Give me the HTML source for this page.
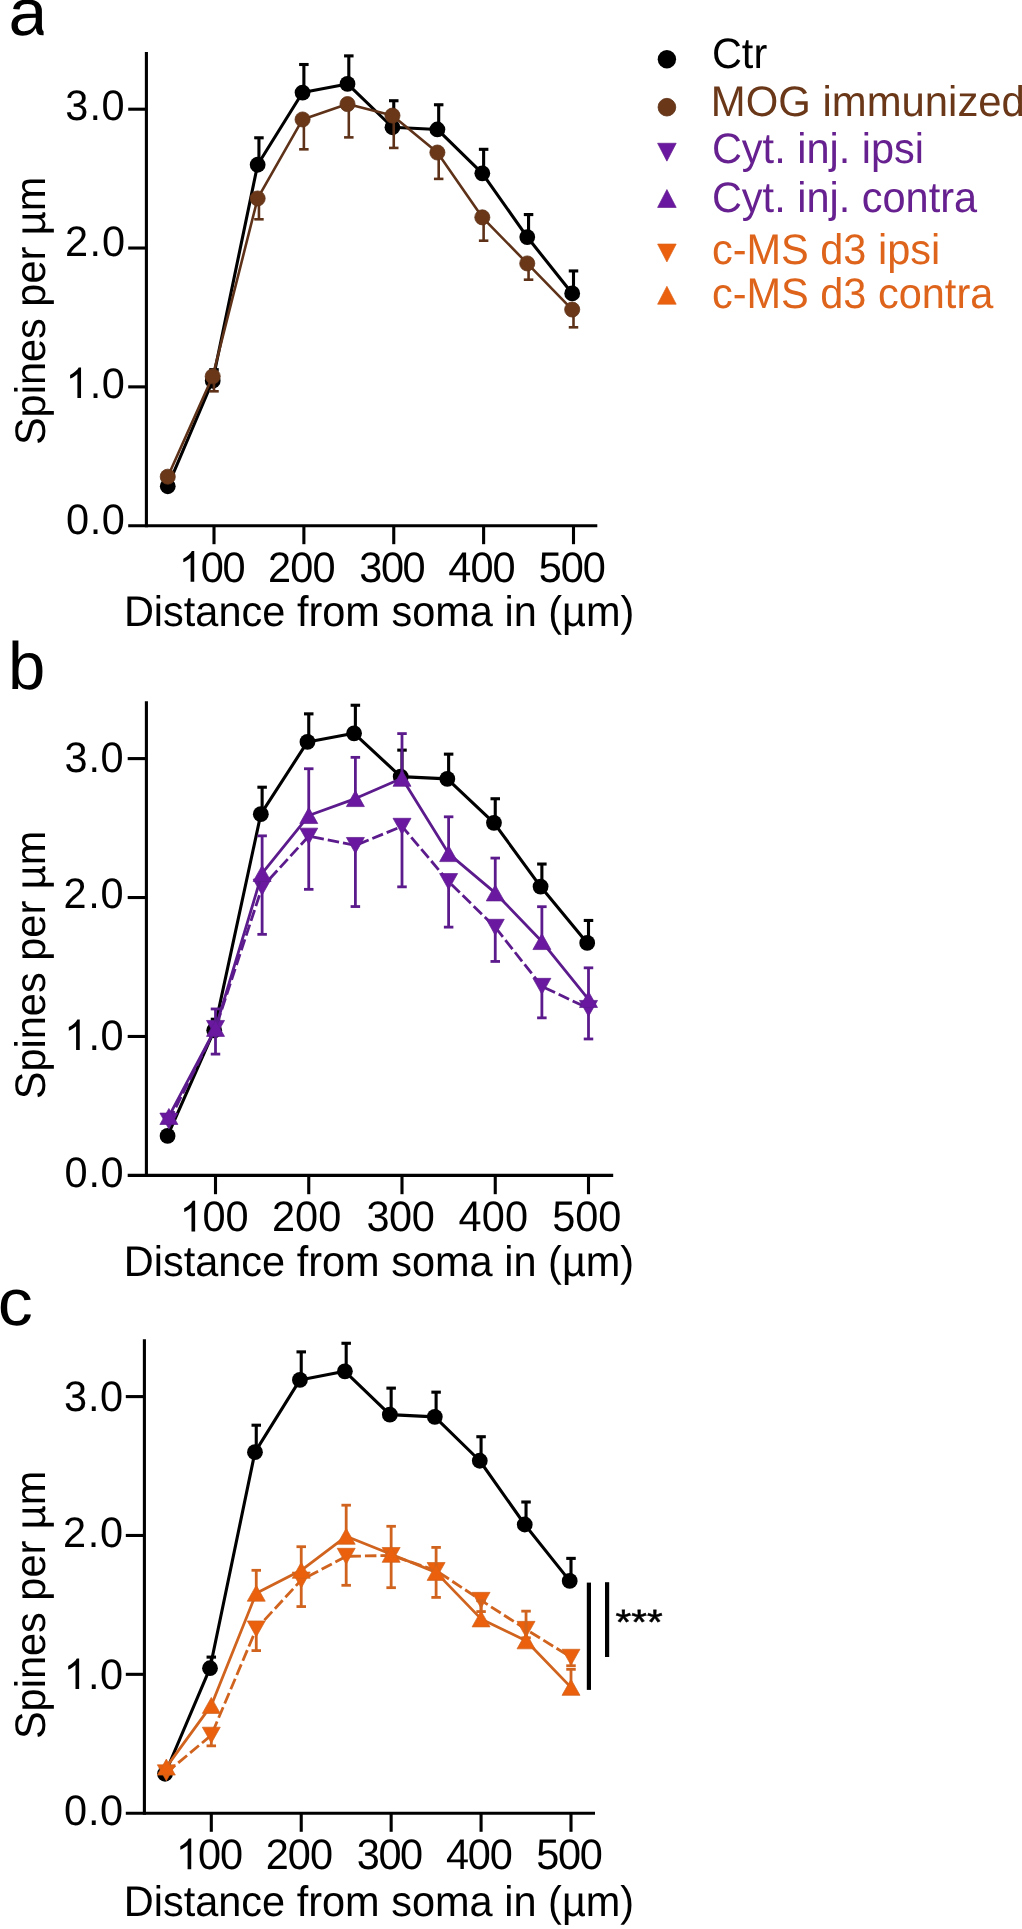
<!DOCTYPE html>
<html><head><meta charset="utf-8"><title>Spines per um</title>
<style>
html,body{margin:0;padding:0;background:#fff;}
body{width:1022px;height:1929px;overflow:hidden;font-family:"Liberation Sans", sans-serif;}
svg{display:block;will-change:transform;}
</style></head><body>
<svg width="1022" height="1929" viewBox="0 0 1022 1929" font-family="Liberation Sans, sans-serif" text-rendering="geometricPrecision">
<rect width="1022" height="1929" fill="#fff"/>
<clipPath id="ca"><rect x="0" y="0" width="43.6" height="60"/></clipPath>
<g clip-path="url(#ca)"><text transform="translate(8.6,35.0) scale(1.06,1)" font-size="66" fill="#000">a</text></g>
<text transform="translate(8.00,689.30) scale(1,1.0)" font-size="67" text-anchor="start" fill="#000" >b</text>
<text transform="translate(-2.30,1325.00) scale(1,0.945)" font-size="70" text-anchor="start" fill="#000" >c</text>
<line x1="146.40" y1="52.00" x2="146.40" y2="527.25" stroke="#000000" stroke-width="3.1" />
<line x1="128.20" y1="525.70" x2="597.30" y2="525.70" stroke="#000000" stroke-width="3.1" />
<line x1="128.20" y1="386.87" x2="146.40" y2="386.87" stroke="#000000" stroke-width="3.1" />
<line x1="128.20" y1="248.03" x2="146.40" y2="248.03" stroke="#000000" stroke-width="3.1" />
<line x1="128.20" y1="109.20" x2="146.40" y2="109.20" stroke="#000000" stroke-width="3.1" />
<line x1="214.00" y1="525.70" x2="214.00" y2="544.20" stroke="#000000" stroke-width="3.1" />
<line x1="303.88" y1="525.70" x2="303.88" y2="544.20" stroke="#000000" stroke-width="3.1" />
<line x1="393.75" y1="525.70" x2="393.75" y2="544.20" stroke="#000000" stroke-width="3.1" />
<line x1="483.62" y1="525.70" x2="483.62" y2="544.20" stroke="#000000" stroke-width="3.1" />
<line x1="573.50" y1="525.70" x2="573.50" y2="544.20" stroke="#000000" stroke-width="3.1" />
<text transform="translate(65.22,120.00) scale(1,1.03)" font-size="41.5" fill="#000">3</text>
<text transform="translate(89.44,120.00) scale(1,1.03)" font-size="41.5" fill="#000">.</text>
<text transform="translate(101.54,120.00) scale(1,1.03)" font-size="41.5" fill="#000">0</text>
<text transform="translate(64.91,256.00) scale(1,1.03)" font-size="41.5" fill="#000">2</text>
<text transform="translate(89.61,256.00) scale(1,1.03)" font-size="41.5" fill="#000">.</text>
<text transform="translate(101.94,256.00) scale(1,1.03)" font-size="41.5" fill="#000">0</text>
<path transform="translate(65.58,398.00) scale(0.020264,-0.020872)" d="M763 0L583 0L583 1147C540 1106 483 1065 413 1024C343 983 280 952 223 931L223 1105C324 1152 412 1210 487 1277C562 1344 615 1409 646 1466L763 1466Z" fill="#000"/>
<text transform="translate(89.69,398.00) scale(1,1.03)" font-size="41.5" fill="#000">.</text>
<text transform="translate(101.74,398.00) scale(1,1.03)" font-size="41.5" fill="#000">0</text>
<text transform="translate(65.88,534.30) scale(1,1.03)" font-size="41.5" fill="#000">0</text>
<text transform="translate(89.79,534.30) scale(1,1.03)" font-size="41.5" fill="#000">.</text>
<text transform="translate(101.74,534.30) scale(1,1.03)" font-size="41.5" fill="#000">0</text>
<path transform="translate(178.78,581.70) scale(0.020264,-0.020872)" d="M763 0L583 0L583 1147C540 1106 483 1065 413 1024C343 983 280 952 223 931L223 1105C324 1152 412 1210 487 1277C562 1344 615 1409 646 1466L763 1466Z" fill="#000"/>
<text transform="translate(200.66,581.70) scale(1,1.03)" font-size="41.5" fill="#000">0</text>
<text transform="translate(222.54,581.70) scale(1,1.03)" font-size="41.5" fill="#000">0</text>
<text transform="translate(268.11,581.70) scale(1,1.03)" font-size="41.5" fill="#000">2</text>
<text transform="translate(290.28,581.70) scale(1,1.03)" font-size="41.5" fill="#000">0</text>
<text transform="translate(312.44,581.70) scale(1,1.03)" font-size="41.5" fill="#000">0</text>
<text transform="translate(359.22,581.70) scale(1,1.03)" font-size="41.5" fill="#000">3</text>
<text transform="translate(380.88,581.70) scale(1,1.03)" font-size="41.5" fill="#000">0</text>
<text transform="translate(402.54,581.70) scale(1,1.03)" font-size="41.5" fill="#000">0</text>
<text transform="translate(448.35,581.70) scale(1,1.03)" font-size="41.5" fill="#000">4</text>
<text transform="translate(470.39,581.70) scale(1,1.03)" font-size="41.5" fill="#000">0</text>
<text transform="translate(492.44,581.70) scale(1,1.03)" font-size="41.5" fill="#000">0</text>
<text transform="translate(538.84,581.70) scale(1,1.03)" font-size="41.5" fill="#000">5</text>
<text transform="translate(560.74,581.70) scale(1,1.03)" font-size="41.5" fill="#000">0</text>
<text transform="translate(582.64,581.70) scale(1,1.03)" font-size="41.5" fill="#000">0</text>
<text transform="translate(123.90,626.10) scale(1,1.03)" font-size="41.5" text-anchor="start" fill="#000" >Distance from soma in (µm)</text>
<text transform="translate(45.10,310.90) rotate(-90) scale(1,1.03)" font-size="41.5" text-anchor="middle">Spines per µm</text>
<line x1="214.00" y1="380.76" x2="214.00" y2="369.65" stroke="#000000" stroke-width="3.1" />
<line x1="209.25" y1="369.65" x2="218.75" y2="369.65" stroke="#000000" stroke-width="3.1" />
<line x1="258.94" y1="164.73" x2="258.94" y2="137.80" stroke="#000000" stroke-width="3.1" />
<line x1="254.19" y1="137.80" x2="263.69" y2="137.80" stroke="#000000" stroke-width="3.1" />
<line x1="303.88" y1="92.54" x2="303.88" y2="64.50" stroke="#000000" stroke-width="3.1" />
<line x1="299.12" y1="64.50" x2="308.62" y2="64.50" stroke="#000000" stroke-width="3.1" />
<line x1="348.81" y1="83.93" x2="348.81" y2="55.89" stroke="#000000" stroke-width="3.1" />
<line x1="344.06" y1="55.89" x2="353.56" y2="55.89" stroke="#000000" stroke-width="3.1" />
<line x1="393.75" y1="127.25" x2="393.75" y2="100.73" stroke="#000000" stroke-width="3.1" />
<line x1="389.00" y1="100.73" x2="398.50" y2="100.73" stroke="#000000" stroke-width="3.1" />
<line x1="438.69" y1="129.47" x2="438.69" y2="104.76" stroke="#000000" stroke-width="3.1" />
<line x1="433.94" y1="104.76" x2="443.44" y2="104.76" stroke="#000000" stroke-width="3.1" />
<line x1="483.62" y1="173.34" x2="483.62" y2="149.32" stroke="#000000" stroke-width="3.1" />
<line x1="478.88" y1="149.32" x2="488.38" y2="149.32" stroke="#000000" stroke-width="3.1" />
<line x1="528.56" y1="237.07" x2="528.56" y2="214.57" stroke="#000000" stroke-width="3.1" />
<line x1="523.81" y1="214.57" x2="533.31" y2="214.57" stroke="#000000" stroke-width="3.1" />
<line x1="573.50" y1="293.43" x2="573.50" y2="270.94" stroke="#000000" stroke-width="3.1" />
<line x1="568.75" y1="270.94" x2="578.25" y2="270.94" stroke="#000000" stroke-width="3.1" />
<polyline points="167.76,486.27 212.70,380.76 257.64,164.73 302.57,92.54 347.51,83.93 392.45,127.25 437.39,129.47 482.32,173.34 527.26,237.07 572.20,293.43" fill="none" stroke="#000000" stroke-width="3.1" stroke-linejoin="round"/>
<circle cx="167.76" cy="486.27" r="7.9" fill="#000000"/>
<circle cx="212.70" cy="380.76" r="7.9" fill="#000000"/>
<circle cx="257.64" cy="164.73" r="7.9" fill="#000000"/>
<circle cx="302.57" cy="92.54" r="7.9" fill="#000000"/>
<circle cx="347.51" cy="83.93" r="7.9" fill="#000000"/>
<circle cx="392.45" cy="127.25" r="7.9" fill="#000000"/>
<circle cx="437.39" cy="129.47" r="7.9" fill="#000000"/>
<circle cx="482.32" cy="173.34" r="7.9" fill="#000000"/>
<circle cx="527.26" cy="237.07" r="7.9" fill="#000000"/>
<circle cx="572.20" cy="293.43" r="7.9" fill="#000000"/>
<line x1="214.00" y1="376.32" x2="214.00" y2="391.31" stroke="#5E3218" stroke-width="2.6" />
<line x1="209.25" y1="391.31" x2="218.75" y2="391.31" stroke="#5E3218" stroke-width="2.6" />
<line x1="258.94" y1="198.47" x2="258.94" y2="219.29" stroke="#5E3218" stroke-width="2.6" />
<line x1="254.19" y1="219.29" x2="263.69" y2="219.29" stroke="#5E3218" stroke-width="2.6" />
<line x1="303.88" y1="119.47" x2="303.88" y2="149.32" stroke="#5E3218" stroke-width="2.6" />
<line x1="299.12" y1="149.32" x2="308.62" y2="149.32" stroke="#5E3218" stroke-width="2.6" />
<line x1="348.81" y1="104.06" x2="348.81" y2="137.38" stroke="#5E3218" stroke-width="2.6" />
<line x1="344.06" y1="137.38" x2="353.56" y2="137.38" stroke="#5E3218" stroke-width="2.6" />
<line x1="393.75" y1="115.59" x2="393.75" y2="147.93" stroke="#5E3218" stroke-width="2.6" />
<line x1="389.00" y1="147.93" x2="398.50" y2="147.93" stroke="#5E3218" stroke-width="2.6" />
<line x1="438.69" y1="152.52" x2="438.69" y2="178.89" stroke="#5E3218" stroke-width="2.6" />
<line x1="433.94" y1="178.89" x2="443.44" y2="178.89" stroke="#5E3218" stroke-width="2.6" />
<line x1="483.62" y1="217.35" x2="483.62" y2="240.68" stroke="#5E3218" stroke-width="2.6" />
<line x1="478.88" y1="240.68" x2="488.38" y2="240.68" stroke="#5E3218" stroke-width="2.6" />
<line x1="528.56" y1="263.44" x2="528.56" y2="279.69" stroke="#5E3218" stroke-width="2.6" />
<line x1="523.81" y1="279.69" x2="533.31" y2="279.69" stroke="#5E3218" stroke-width="2.6" />
<line x1="573.50" y1="309.54" x2="573.50" y2="327.31" stroke="#5E3218" stroke-width="2.6" />
<line x1="568.75" y1="327.31" x2="578.25" y2="327.31" stroke="#5E3218" stroke-width="2.6" />
<polyline points="167.76,476.69 212.70,376.32 257.64,198.47 302.57,119.47 347.51,104.06 392.45,115.59 437.39,152.52 482.32,217.35 527.26,263.44 572.20,309.54" fill="none" stroke="#5E3218" stroke-width="2.6" stroke-linejoin="round"/>
<circle cx="167.76" cy="476.69" r="7.550000000000001" fill="#6A3818" stroke="#5E3218" stroke-width="0.8"/>
<circle cx="212.70" cy="376.32" r="7.550000000000001" fill="#6A3818" stroke="#5E3218" stroke-width="0.8"/>
<circle cx="257.64" cy="198.47" r="7.550000000000001" fill="#6A3818" stroke="#5E3218" stroke-width="0.8"/>
<circle cx="302.57" cy="119.47" r="7.550000000000001" fill="#6A3818" stroke="#5E3218" stroke-width="0.8"/>
<circle cx="347.51" cy="104.06" r="7.550000000000001" fill="#6A3818" stroke="#5E3218" stroke-width="0.8"/>
<circle cx="392.45" cy="115.59" r="7.550000000000001" fill="#6A3818" stroke="#5E3218" stroke-width="0.8"/>
<circle cx="437.39" cy="152.52" r="7.550000000000001" fill="#6A3818" stroke="#5E3218" stroke-width="0.8"/>
<circle cx="482.32" cy="217.35" r="7.550000000000001" fill="#6A3818" stroke="#5E3218" stroke-width="0.8"/>
<circle cx="527.26" cy="263.44" r="7.550000000000001" fill="#6A3818" stroke="#5E3218" stroke-width="0.8"/>
<circle cx="572.20" cy="309.54" r="7.550000000000001" fill="#6A3818" stroke="#5E3218" stroke-width="0.8"/>
<line x1="146.40" y1="701.30" x2="146.40" y2="1176.95" stroke="#000000" stroke-width="3.1" />
<line x1="127.70" y1="1175.40" x2="613.20" y2="1175.40" stroke="#000000" stroke-width="3.1" />
<line x1="127.70" y1="1036.47" x2="146.40" y2="1036.47" stroke="#000000" stroke-width="3.1" />
<line x1="127.70" y1="897.53" x2="146.40" y2="897.53" stroke="#000000" stroke-width="3.1" />
<line x1="127.70" y1="758.60" x2="146.40" y2="758.60" stroke="#000000" stroke-width="3.1" />
<line x1="215.50" y1="1175.40" x2="215.50" y2="1194.20" stroke="#000000" stroke-width="3.1" />
<line x1="308.75" y1="1175.40" x2="308.75" y2="1194.20" stroke="#000000" stroke-width="3.1" />
<line x1="402.00" y1="1175.40" x2="402.00" y2="1194.20" stroke="#000000" stroke-width="3.1" />
<line x1="495.25" y1="1175.40" x2="495.25" y2="1194.20" stroke="#000000" stroke-width="3.1" />
<line x1="588.50" y1="1175.40" x2="588.50" y2="1194.20" stroke="#000000" stroke-width="3.1" />
<text transform="translate(64.42,772.20) scale(1,1.03)" font-size="41.5" fill="#000">3</text>
<text transform="translate(88.51,772.20) scale(1,1.03)" font-size="41.5" fill="#000">.</text>
<text transform="translate(100.54,772.20) scale(1,1.03)" font-size="41.5" fill="#000">0</text>
<text transform="translate(63.61,908.00) scale(1,1.03)" font-size="41.5" fill="#000">2</text>
<text transform="translate(88.24,908.00) scale(1,1.03)" font-size="41.5" fill="#000">.</text>
<text transform="translate(100.54,908.00) scale(1,1.03)" font-size="41.5" fill="#000">0</text>
<path transform="translate(64.28,1050.10) scale(0.020264,-0.020872)" d="M763 0L583 0L583 1147C540 1106 483 1065 413 1024C343 983 280 952 223 931L223 1105C324 1152 412 1210 487 1277C562 1344 615 1409 646 1466L763 1466Z" fill="#000"/>
<text transform="translate(88.46,1050.10) scale(1,1.03)" font-size="41.5" fill="#000">.</text>
<text transform="translate(100.54,1050.10) scale(1,1.03)" font-size="41.5" fill="#000">0</text>
<text transform="translate(64.58,1186.50) scale(1,1.03)" font-size="41.5" fill="#000">0</text>
<text transform="translate(88.56,1186.50) scale(1,1.03)" font-size="41.5" fill="#000">.</text>
<text transform="translate(100.54,1186.50) scale(1,1.03)" font-size="41.5" fill="#000">0</text>
<path transform="translate(179.68,1231.40) scale(0.020264,-0.020872)" d="M763 0L583 0L583 1147C540 1106 483 1065 413 1024C343 983 280 952 223 931L223 1105C324 1152 412 1210 487 1277C562 1344 615 1409 646 1466L763 1466Z" fill="#000"/>
<text transform="translate(202.56,1231.40) scale(1,1.03)" font-size="41.5" fill="#000">0</text>
<text transform="translate(225.44,1231.40) scale(1,1.03)" font-size="41.5" fill="#000">0</text>
<text transform="translate(271.91,1231.40) scale(1,1.03)" font-size="41.5" fill="#000">2</text>
<text transform="translate(295.08,1231.40) scale(1,1.03)" font-size="41.5" fill="#000">0</text>
<text transform="translate(318.24,1231.40) scale(1,1.03)" font-size="41.5" fill="#000">0</text>
<text transform="translate(366.42,1231.40) scale(1,1.03)" font-size="41.5" fill="#000">3</text>
<text transform="translate(389.08,1231.40) scale(1,1.03)" font-size="41.5" fill="#000">0</text>
<text transform="translate(411.74,1231.40) scale(1,1.03)" font-size="41.5" fill="#000">0</text>
<text transform="translate(458.55,1231.40) scale(1,1.03)" font-size="41.5" fill="#000">4</text>
<text transform="translate(481.74,1231.40) scale(1,1.03)" font-size="41.5" fill="#000">0</text>
<text transform="translate(504.94,1231.40) scale(1,1.03)" font-size="41.5" fill="#000">0</text>
<text transform="translate(552.34,1231.40) scale(1,1.03)" font-size="41.5" fill="#000">5</text>
<text transform="translate(575.34,1231.40) scale(1,1.03)" font-size="41.5" fill="#000">0</text>
<text transform="translate(598.34,1231.40) scale(1,1.03)" font-size="41.5" fill="#000">0</text>
<text transform="translate(123.70,1276.10) scale(1,1.03)" font-size="41.5" text-anchor="start" fill="#000" >Distance from soma in (µm)</text>
<text transform="translate(45.10,965.00) rotate(-90) scale(1,1.03)" font-size="41.5" text-anchor="middle">Spines per µm</text>
<line x1="215.50" y1="1030.35" x2="215.50" y2="1019.24" stroke="#000000" stroke-width="3.1" />
<line x1="210.75" y1="1019.24" x2="220.25" y2="1019.24" stroke="#000000" stroke-width="3.1" />
<line x1="262.12" y1="814.17" x2="262.12" y2="787.22" stroke="#000000" stroke-width="3.1" />
<line x1="257.38" y1="787.22" x2="266.88" y2="787.22" stroke="#000000" stroke-width="3.1" />
<line x1="308.75" y1="741.93" x2="308.75" y2="713.86" stroke="#000000" stroke-width="3.1" />
<line x1="304.00" y1="713.86" x2="313.50" y2="713.86" stroke="#000000" stroke-width="3.1" />
<line x1="355.38" y1="733.31" x2="355.38" y2="705.25" stroke="#000000" stroke-width="3.1" />
<line x1="350.62" y1="705.25" x2="360.12" y2="705.25" stroke="#000000" stroke-width="3.1" />
<line x1="402.00" y1="776.66" x2="402.00" y2="750.13" stroke="#000000" stroke-width="3.1" />
<line x1="397.25" y1="750.13" x2="406.75" y2="750.13" stroke="#000000" stroke-width="3.1" />
<line x1="448.62" y1="778.88" x2="448.62" y2="754.15" stroke="#000000" stroke-width="3.1" />
<line x1="443.88" y1="754.15" x2="453.38" y2="754.15" stroke="#000000" stroke-width="3.1" />
<line x1="495.25" y1="822.79" x2="495.25" y2="798.75" stroke="#000000" stroke-width="3.1" />
<line x1="490.50" y1="798.75" x2="500.00" y2="798.75" stroke="#000000" stroke-width="3.1" />
<line x1="541.88" y1="886.56" x2="541.88" y2="864.05" stroke="#000000" stroke-width="3.1" />
<line x1="537.12" y1="864.05" x2="546.62" y2="864.05" stroke="#000000" stroke-width="3.1" />
<line x1="588.50" y1="942.96" x2="588.50" y2="920.46" stroke="#000000" stroke-width="3.1" />
<line x1="583.75" y1="920.46" x2="593.25" y2="920.46" stroke="#000000" stroke-width="3.1" />
<polyline points="167.57,1135.94 214.20,1030.35 260.82,814.17 307.45,741.93 354.07,733.31 400.70,776.66 447.32,778.88 493.95,822.79 540.58,886.56 587.20,942.96" fill="none" stroke="#000000" stroke-width="3.1" stroke-linejoin="round"/>
<circle cx="167.57" cy="1135.94" r="7.9" fill="#000000"/>
<circle cx="214.20" cy="1030.35" r="7.9" fill="#000000"/>
<circle cx="260.82" cy="814.17" r="7.9" fill="#000000"/>
<circle cx="307.45" cy="741.93" r="7.9" fill="#000000"/>
<circle cx="354.07" cy="733.31" r="7.9" fill="#000000"/>
<circle cx="400.70" cy="776.66" r="7.9" fill="#000000"/>
<circle cx="447.32" cy="778.88" r="7.9" fill="#000000"/>
<circle cx="493.95" cy="822.79" r="7.9" fill="#000000"/>
<circle cx="540.58" cy="886.56" r="7.9" fill="#000000"/>
<circle cx="587.20" cy="942.96" r="7.9" fill="#000000"/>
<line x1="215.50" y1="1025.77" x2="215.50" y2="1054.11" stroke="#5C1B8C" stroke-width="2.8" />
<line x1="210.75" y1="1054.11" x2="220.25" y2="1054.11" stroke="#5C1B8C" stroke-width="2.8" />
<line x1="262.12" y1="884.47" x2="262.12" y2="934.35" stroke="#5C1B8C" stroke-width="2.8" />
<line x1="257.38" y1="934.35" x2="266.88" y2="934.35" stroke="#5C1B8C" stroke-width="2.8" />
<line x1="308.75" y1="833.49" x2="308.75" y2="889.34" stroke="#5C1B8C" stroke-width="2.8" />
<line x1="304.00" y1="889.34" x2="313.50" y2="889.34" stroke="#5C1B8C" stroke-width="2.8" />
<line x1="355.38" y1="842.79" x2="355.38" y2="906.56" stroke="#5C1B8C" stroke-width="2.8" />
<line x1="350.62" y1="906.56" x2="360.12" y2="906.56" stroke="#5C1B8C" stroke-width="2.8" />
<line x1="402.00" y1="823.62" x2="402.00" y2="886.84" stroke="#5C1B8C" stroke-width="2.8" />
<line x1="397.25" y1="886.84" x2="406.75" y2="886.84" stroke="#5C1B8C" stroke-width="2.8" />
<line x1="448.62" y1="878.92" x2="448.62" y2="927.13" stroke="#5C1B8C" stroke-width="2.8" />
<line x1="443.88" y1="927.13" x2="453.38" y2="927.13" stroke="#5C1B8C" stroke-width="2.8" />
<line x1="495.25" y1="924.63" x2="495.25" y2="961.44" stroke="#5C1B8C" stroke-width="2.8" />
<line x1="490.50" y1="961.44" x2="500.00" y2="961.44" stroke="#5C1B8C" stroke-width="2.8" />
<line x1="541.88" y1="983.67" x2="541.88" y2="1017.85" stroke="#5C1B8C" stroke-width="2.8" />
<line x1="537.12" y1="1017.85" x2="546.62" y2="1017.85" stroke="#5C1B8C" stroke-width="2.8" />
<line x1="588.50" y1="1005.76" x2="588.50" y2="1038.97" stroke="#5C1B8C" stroke-width="2.8" />
<line x1="583.75" y1="1038.97" x2="593.25" y2="1038.97" stroke="#5C1B8C" stroke-width="2.8" />
<polyline points="168.88,1121.10 215.50,1028.44 262.12,887.14 308.75,836.15 355.38,845.46 402.00,826.29 448.62,881.58 495.25,927.29 541.88,986.34 588.50,1008.43" fill="none" stroke="#5C1B8C" stroke-width="2.8" stroke-linejoin="round" stroke-dasharray="11.5,4"/>
<polygon points="168.88,1129.10 177.88,1113.10 159.88,1113.10" fill="#6A18A0" stroke="#5C1B8C" stroke-width="0.7" stroke-linejoin="miter"/>
<polygon points="215.50,1036.44 224.50,1020.44 206.50,1020.44" fill="#6A18A0" stroke="#5C1B8C" stroke-width="0.7" stroke-linejoin="miter"/>
<polygon points="262.12,895.14 271.12,879.14 253.12,879.14" fill="#6A18A0" stroke="#5C1B8C" stroke-width="0.7" stroke-linejoin="miter"/>
<polygon points="308.75,844.15 317.75,828.15 299.75,828.15" fill="#6A18A0" stroke="#5C1B8C" stroke-width="0.7" stroke-linejoin="miter"/>
<polygon points="355.38,853.46 364.38,837.46 346.38,837.46" fill="#6A18A0" stroke="#5C1B8C" stroke-width="0.7" stroke-linejoin="miter"/>
<polygon points="402.00,834.29 411.00,818.29 393.00,818.29" fill="#6A18A0" stroke="#5C1B8C" stroke-width="0.7" stroke-linejoin="miter"/>
<polygon points="448.62,889.58 457.62,873.58 439.62,873.58" fill="#6A18A0" stroke="#5C1B8C" stroke-width="0.7" stroke-linejoin="miter"/>
<polygon points="495.25,935.29 504.25,919.29 486.25,919.29" fill="#6A18A0" stroke="#5C1B8C" stroke-width="0.7" stroke-linejoin="miter"/>
<polygon points="541.88,994.34 550.88,978.34 532.88,978.34" fill="#6A18A0" stroke="#5C1B8C" stroke-width="0.7" stroke-linejoin="miter"/>
<polygon points="588.50,1016.43 597.50,1000.43 579.50,1000.43" fill="#6A18A0" stroke="#5C1B8C" stroke-width="0.7" stroke-linejoin="miter"/>
<line x1="215.50" y1="1031.05" x2="215.50" y2="1008.96" stroke="#5C1B8C" stroke-width="2.8" />
<line x1="210.75" y1="1008.96" x2="220.25" y2="1008.96" stroke="#5C1B8C" stroke-width="2.8" />
<line x1="262.12" y1="876.14" x2="262.12" y2="835.85" stroke="#5C1B8C" stroke-width="2.8" />
<line x1="257.38" y1="835.85" x2="266.88" y2="835.85" stroke="#5C1B8C" stroke-width="2.8" />
<line x1="308.75" y1="818.20" x2="308.75" y2="768.74" stroke="#5C1B8C" stroke-width="2.8" />
<line x1="304.00" y1="768.74" x2="313.50" y2="768.74" stroke="#5C1B8C" stroke-width="2.8" />
<line x1="355.38" y1="801.25" x2="355.38" y2="757.35" stroke="#5C1B8C" stroke-width="2.8" />
<line x1="350.62" y1="757.35" x2="360.12" y2="757.35" stroke="#5C1B8C" stroke-width="2.8" />
<line x1="402.00" y1="780.97" x2="402.00" y2="733.59" stroke="#5C1B8C" stroke-width="2.8" />
<line x1="397.25" y1="733.59" x2="406.75" y2="733.59" stroke="#5C1B8C" stroke-width="2.8" />
<line x1="448.62" y1="856.27" x2="448.62" y2="816.81" stroke="#5C1B8C" stroke-width="2.8" />
<line x1="443.88" y1="816.81" x2="453.38" y2="816.81" stroke="#5C1B8C" stroke-width="2.8" />
<line x1="495.25" y1="895.59" x2="495.25" y2="858.08" stroke="#5C1B8C" stroke-width="2.8" />
<line x1="490.50" y1="858.08" x2="500.00" y2="858.08" stroke="#5C1B8C" stroke-width="2.8" />
<line x1="541.88" y1="944.21" x2="541.88" y2="906.70" stroke="#5C1B8C" stroke-width="2.8" />
<line x1="537.12" y1="906.70" x2="546.62" y2="906.70" stroke="#5C1B8C" stroke-width="2.8" />
<line x1="588.50" y1="1002.15" x2="588.50" y2="967.83" stroke="#5C1B8C" stroke-width="2.8" />
<line x1="583.75" y1="967.83" x2="593.25" y2="967.83" stroke="#5C1B8C" stroke-width="2.8" />
<polyline points="168.88,1116.47 215.50,1028.38 262.12,873.47 308.75,815.54 355.38,798.59 402.00,778.30 448.62,853.60 495.25,892.92 541.88,941.55 588.50,999.48" fill="none" stroke="#5C1B8C" stroke-width="2.8" stroke-linejoin="round"/>
<polygon points="168.88,1108.47 177.88,1124.47 159.88,1124.47" fill="#6A18A0" stroke="#5C1B8C" stroke-width="0.7" stroke-linejoin="miter"/>
<polygon points="215.50,1020.38 224.50,1036.38 206.50,1036.38" fill="#6A18A0" stroke="#5C1B8C" stroke-width="0.7" stroke-linejoin="miter"/>
<polygon points="262.12,865.47 271.12,881.47 253.12,881.47" fill="#6A18A0" stroke="#5C1B8C" stroke-width="0.7" stroke-linejoin="miter"/>
<polygon points="308.75,807.54 317.75,823.54 299.75,823.54" fill="#6A18A0" stroke="#5C1B8C" stroke-width="0.7" stroke-linejoin="miter"/>
<polygon points="355.38,790.59 364.38,806.59 346.38,806.59" fill="#6A18A0" stroke="#5C1B8C" stroke-width="0.7" stroke-linejoin="miter"/>
<polygon points="402.00,770.30 411.00,786.30 393.00,786.30" fill="#6A18A0" stroke="#5C1B8C" stroke-width="0.7" stroke-linejoin="miter"/>
<polygon points="448.62,845.60 457.62,861.60 439.62,861.60" fill="#6A18A0" stroke="#5C1B8C" stroke-width="0.7" stroke-linejoin="miter"/>
<polygon points="495.25,884.92 504.25,900.92 486.25,900.92" fill="#6A18A0" stroke="#5C1B8C" stroke-width="0.7" stroke-linejoin="miter"/>
<polygon points="541.88,933.55 550.88,949.55 532.88,949.55" fill="#6A18A0" stroke="#5C1B8C" stroke-width="0.7" stroke-linejoin="miter"/>
<polygon points="588.50,991.48 597.50,1007.48 579.50,1007.48" fill="#6A18A0" stroke="#5C1B8C" stroke-width="0.7" stroke-linejoin="miter"/>
<line x1="144.40" y1="1339.30" x2="144.40" y2="1814.75" stroke="#000000" stroke-width="3.1" />
<line x1="125.80" y1="1813.20" x2="595.00" y2="1813.20" stroke="#000000" stroke-width="3.1" />
<line x1="125.80" y1="1674.33" x2="144.40" y2="1674.33" stroke="#000000" stroke-width="3.1" />
<line x1="125.80" y1="1535.47" x2="144.40" y2="1535.47" stroke="#000000" stroke-width="3.1" />
<line x1="125.80" y1="1396.60" x2="144.40" y2="1396.60" stroke="#000000" stroke-width="3.1" />
<line x1="211.30" y1="1813.20" x2="211.30" y2="1831.80" stroke="#000000" stroke-width="3.1" />
<line x1="301.23" y1="1813.20" x2="301.23" y2="1831.80" stroke="#000000" stroke-width="3.1" />
<line x1="391.15" y1="1813.20" x2="391.15" y2="1831.80" stroke="#000000" stroke-width="3.1" />
<line x1="481.07" y1="1813.20" x2="481.07" y2="1831.80" stroke="#000000" stroke-width="3.1" />
<line x1="571.00" y1="1813.20" x2="571.00" y2="1831.80" stroke="#000000" stroke-width="3.1" />
<text transform="translate(64.02,1411.10) scale(1,1.03)" font-size="41.5" fill="#000">3</text>
<text transform="translate(88.04,1411.10) scale(1,1.03)" font-size="41.5" fill="#000">.</text>
<text transform="translate(100.04,1411.10) scale(1,1.03)" font-size="41.5" fill="#000">0</text>
<text transform="translate(63.01,1546.70) scale(1,1.03)" font-size="41.5" fill="#000">2</text>
<text transform="translate(87.71,1546.70) scale(1,1.03)" font-size="41.5" fill="#000">.</text>
<text transform="translate(100.04,1546.70) scale(1,1.03)" font-size="41.5" fill="#000">0</text>
<path transform="translate(63.68,1689.00) scale(0.020264,-0.020872)" d="M763 0L583 0L583 1147C540 1106 483 1065 413 1024C343 983 280 952 223 931L223 1105C324 1152 412 1210 487 1277C562 1344 615 1409 646 1466L763 1466Z" fill="#000"/>
<text transform="translate(87.93,1689.00) scale(1,1.03)" font-size="41.5" fill="#000">.</text>
<text transform="translate(100.04,1689.00) scale(1,1.03)" font-size="41.5" fill="#000">0</text>
<text transform="translate(63.98,1825.40) scale(1,1.03)" font-size="41.5" fill="#000">0</text>
<text transform="translate(88.03,1825.40) scale(1,1.03)" font-size="41.5" fill="#000">.</text>
<text transform="translate(100.04,1825.40) scale(1,1.03)" font-size="41.5" fill="#000">0</text>
<path transform="translate(175.78,1869.20) scale(0.020264,-0.020872)" d="M763 0L583 0L583 1147C540 1106 483 1065 413 1024C343 983 280 952 223 931L223 1105C324 1152 412 1210 487 1277C562 1344 615 1409 646 1466L763 1466Z" fill="#000"/>
<text transform="translate(197.91,1869.20) scale(1,1.03)" font-size="41.5" fill="#000">0</text>
<text transform="translate(220.04,1869.20) scale(1,1.03)" font-size="41.5" fill="#000">0</text>
<text transform="translate(265.71,1869.20) scale(1,1.03)" font-size="41.5" fill="#000">2</text>
<text transform="translate(287.83,1869.20) scale(1,1.03)" font-size="41.5" fill="#000">0</text>
<text transform="translate(309.94,1869.20) scale(1,1.03)" font-size="41.5" fill="#000">0</text>
<text transform="translate(356.72,1869.20) scale(1,1.03)" font-size="41.5" fill="#000">3</text>
<text transform="translate(378.38,1869.20) scale(1,1.03)" font-size="41.5" fill="#000">0</text>
<text transform="translate(400.04,1869.20) scale(1,1.03)" font-size="41.5" fill="#000">0</text>
<text transform="translate(446.05,1869.20) scale(1,1.03)" font-size="41.5" fill="#000">4</text>
<text transform="translate(467.84,1869.20) scale(1,1.03)" font-size="41.5" fill="#000">0</text>
<text transform="translate(489.64,1869.20) scale(1,1.03)" font-size="41.5" fill="#000">0</text>
<text transform="translate(536.14,1869.20) scale(1,1.03)" font-size="41.5" fill="#000">5</text>
<text transform="translate(557.94,1869.20) scale(1,1.03)" font-size="41.5" fill="#000">0</text>
<text transform="translate(579.74,1869.20) scale(1,1.03)" font-size="41.5" fill="#000">0</text>
<text transform="translate(123.70,1915.80) scale(1,1.03)" font-size="41.5" text-anchor="start" fill="#000" >Distance from soma in (µm)</text>
<text transform="translate(45.10,1604.90) rotate(-90) scale(1,1.03)" font-size="41.5" text-anchor="middle">Spines per µm</text>
<line x1="211.30" y1="1668.22" x2="211.30" y2="1657.11" stroke="#000000" stroke-width="3.1" />
<line x1="206.55" y1="1657.11" x2="216.05" y2="1657.11" stroke="#000000" stroke-width="3.1" />
<line x1="256.26" y1="1452.15" x2="256.26" y2="1425.21" stroke="#000000" stroke-width="3.1" />
<line x1="251.51" y1="1425.21" x2="261.01" y2="1425.21" stroke="#000000" stroke-width="3.1" />
<line x1="301.23" y1="1379.94" x2="301.23" y2="1351.88" stroke="#000000" stroke-width="3.1" />
<line x1="296.48" y1="1351.88" x2="305.98" y2="1351.88" stroke="#000000" stroke-width="3.1" />
<line x1="346.19" y1="1371.33" x2="346.19" y2="1343.28" stroke="#000000" stroke-width="3.1" />
<line x1="341.44" y1="1343.28" x2="350.94" y2="1343.28" stroke="#000000" stroke-width="3.1" />
<line x1="391.15" y1="1414.65" x2="391.15" y2="1388.13" stroke="#000000" stroke-width="3.1" />
<line x1="386.40" y1="1388.13" x2="395.90" y2="1388.13" stroke="#000000" stroke-width="3.1" />
<line x1="436.11" y1="1416.87" x2="436.11" y2="1392.16" stroke="#000000" stroke-width="3.1" />
<line x1="431.36" y1="1392.16" x2="440.86" y2="1392.16" stroke="#000000" stroke-width="3.1" />
<line x1="481.07" y1="1460.76" x2="481.07" y2="1436.73" stroke="#000000" stroke-width="3.1" />
<line x1="476.32" y1="1436.73" x2="485.82" y2="1436.73" stroke="#000000" stroke-width="3.1" />
<line x1="526.04" y1="1524.50" x2="526.04" y2="1502.00" stroke="#000000" stroke-width="3.1" />
<line x1="521.29" y1="1502.00" x2="530.79" y2="1502.00" stroke="#000000" stroke-width="3.1" />
<line x1="571.00" y1="1580.88" x2="571.00" y2="1558.38" stroke="#000000" stroke-width="3.1" />
<line x1="566.25" y1="1558.38" x2="575.75" y2="1558.38" stroke="#000000" stroke-width="3.1" />
<polyline points="165.04,1773.76 210.00,1668.22 254.96,1452.15 299.93,1379.94 344.89,1371.33 389.85,1414.65 434.81,1416.87 479.77,1460.76 524.74,1524.50 569.70,1580.88" fill="none" stroke="#000000" stroke-width="3.1" stroke-linejoin="round"/>
<circle cx="165.04" cy="1773.76" r="7.9" fill="#000000"/>
<circle cx="210.00" cy="1668.22" r="7.9" fill="#000000"/>
<circle cx="254.96" cy="1452.15" r="7.9" fill="#000000"/>
<circle cx="299.93" cy="1379.94" r="7.9" fill="#000000"/>
<circle cx="344.89" cy="1371.33" r="7.9" fill="#000000"/>
<circle cx="389.85" cy="1414.65" r="7.9" fill="#000000"/>
<circle cx="434.81" cy="1416.87" r="7.9" fill="#000000"/>
<circle cx="479.77" cy="1460.76" r="7.9" fill="#000000"/>
<circle cx="524.74" cy="1524.50" r="7.9" fill="#000000"/>
<circle cx="569.70" cy="1580.88" r="7.9" fill="#000000"/>
<line x1="211.30" y1="1732.52" x2="211.30" y2="1745.85" stroke="#D0631E" stroke-width="2.8" />
<line x1="206.55" y1="1745.85" x2="216.05" y2="1745.85" stroke="#D0631E" stroke-width="2.8" />
<line x1="256.26" y1="1626.29" x2="256.26" y2="1650.59" stroke="#D0631E" stroke-width="2.8" />
<line x1="251.51" y1="1650.59" x2="261.01" y2="1650.59" stroke="#D0631E" stroke-width="2.8" />
<line x1="301.23" y1="1577.40" x2="301.23" y2="1606.57" stroke="#D0631E" stroke-width="2.8" />
<line x1="296.48" y1="1606.57" x2="305.98" y2="1606.57" stroke="#D0631E" stroke-width="2.8" />
<line x1="346.19" y1="1553.66" x2="346.19" y2="1585.32" stroke="#D0631E" stroke-width="2.8" />
<line x1="341.44" y1="1585.32" x2="350.94" y2="1585.32" stroke="#D0631E" stroke-width="2.8" />
<line x1="391.15" y1="1552.83" x2="391.15" y2="1587.68" stroke="#D0631E" stroke-width="2.8" />
<line x1="386.40" y1="1587.68" x2="395.90" y2="1587.68" stroke="#D0631E" stroke-width="2.8" />
<line x1="436.11" y1="1567.82" x2="436.11" y2="1597.40" stroke="#D0631E" stroke-width="2.8" />
<line x1="431.36" y1="1597.40" x2="440.86" y2="1597.40" stroke="#D0631E" stroke-width="2.8" />
<line x1="481.07" y1="1597.68" x2="481.07" y2="1611.57" stroke="#D0631E" stroke-width="2.8" />
<line x1="476.32" y1="1611.57" x2="485.82" y2="1611.57" stroke="#D0631E" stroke-width="2.8" />
<line x1="526.04" y1="1626.70" x2="526.04" y2="1637.81" stroke="#D0631E" stroke-width="2.8" />
<line x1="521.29" y1="1637.81" x2="530.79" y2="1637.81" stroke="#D0631E" stroke-width="2.8" />
<line x1="571.00" y1="1654.61" x2="571.00" y2="1665.72" stroke="#D0631E" stroke-width="2.8" />
<line x1="566.25" y1="1665.72" x2="575.75" y2="1665.72" stroke="#D0631E" stroke-width="2.8" />
<polyline points="166.34,1772.82 211.30,1735.19 256.26,1628.95 301.23,1580.07 346.19,1556.32 391.15,1555.49 436.11,1570.49 481.07,1600.35 526.04,1629.37 571.00,1657.28" fill="none" stroke="#D0631E" stroke-width="2.8" stroke-linejoin="round" stroke-dasharray="11.5,4"/>
<polygon points="166.34,1780.82 175.34,1764.82 157.34,1764.82" fill="#EA600C" stroke="#D0631E" stroke-width="0.7" stroke-linejoin="miter"/>
<polygon points="211.30,1743.19 220.30,1727.19 202.30,1727.19" fill="#EA600C" stroke="#D0631E" stroke-width="0.7" stroke-linejoin="miter"/>
<polygon points="256.26,1636.95 265.26,1620.95 247.26,1620.95" fill="#EA600C" stroke="#D0631E" stroke-width="0.7" stroke-linejoin="miter"/>
<polygon points="301.23,1588.07 310.23,1572.07 292.23,1572.07" fill="#EA600C" stroke="#D0631E" stroke-width="0.7" stroke-linejoin="miter"/>
<polygon points="346.19,1564.32 355.19,1548.32 337.19,1548.32" fill="#EA600C" stroke="#D0631E" stroke-width="0.7" stroke-linejoin="miter"/>
<polygon points="391.15,1563.49 400.15,1547.49 382.15,1547.49" fill="#EA600C" stroke="#D0631E" stroke-width="0.7" stroke-linejoin="miter"/>
<polygon points="436.11,1578.49 445.11,1562.49 427.11,1562.49" fill="#EA600C" stroke="#D0631E" stroke-width="0.7" stroke-linejoin="miter"/>
<polygon points="481.07,1608.35 490.07,1592.35 472.07,1592.35" fill="#EA600C" stroke="#D0631E" stroke-width="0.7" stroke-linejoin="miter"/>
<polygon points="526.04,1637.37 535.04,1621.37 517.04,1621.37" fill="#EA600C" stroke="#D0631E" stroke-width="0.7" stroke-linejoin="miter"/>
<polygon points="571.00,1665.28 580.00,1649.28 562.00,1649.28" fill="#EA600C" stroke="#D0631E" stroke-width="0.7" stroke-linejoin="miter"/>
<line x1="256.26" y1="1595.87" x2="256.26" y2="1570.32" stroke="#D0631E" stroke-width="2.8" />
<line x1="251.51" y1="1570.32" x2="261.01" y2="1570.32" stroke="#D0631E" stroke-width="2.8" />
<line x1="301.23" y1="1572.96" x2="301.23" y2="1546.71" stroke="#D0631E" stroke-width="2.8" />
<line x1="296.48" y1="1546.71" x2="305.98" y2="1546.71" stroke="#D0631E" stroke-width="2.8" />
<line x1="346.19" y1="1538.94" x2="346.19" y2="1505.19" stroke="#D0631E" stroke-width="2.8" />
<line x1="341.44" y1="1505.19" x2="350.94" y2="1505.19" stroke="#D0631E" stroke-width="2.8" />
<line x1="391.15" y1="1556.99" x2="391.15" y2="1526.30" stroke="#D0631E" stroke-width="2.8" />
<line x1="386.40" y1="1526.30" x2="395.90" y2="1526.30" stroke="#D0631E" stroke-width="2.8" />
<line x1="436.11" y1="1575.04" x2="436.11" y2="1547.41" stroke="#D0631E" stroke-width="2.8" />
<line x1="431.36" y1="1547.41" x2="440.86" y2="1547.41" stroke="#D0631E" stroke-width="2.8" />
<line x1="481.07" y1="1621.56" x2="481.07" y2="1600.73" stroke="#D0631E" stroke-width="2.8" />
<line x1="476.32" y1="1600.73" x2="485.82" y2="1600.73" stroke="#D0631E" stroke-width="2.8" />
<line x1="526.04" y1="1643.50" x2="526.04" y2="1611.15" stroke="#D0631E" stroke-width="2.8" />
<line x1="521.29" y1="1611.15" x2="530.79" y2="1611.15" stroke="#D0631E" stroke-width="2.8" />
<line x1="571.00" y1="1690.03" x2="571.00" y2="1669.33" stroke="#D0631E" stroke-width="2.8" />
<line x1="566.25" y1="1669.33" x2="575.75" y2="1669.33" stroke="#D0631E" stroke-width="2.8" />
<polyline points="166.34,1767.07 211.30,1705.41 256.26,1593.21 301.23,1570.29 346.19,1536.27 391.15,1554.32 436.11,1572.38 481.07,1618.90 526.04,1640.84 571.00,1687.36" fill="none" stroke="#D0631E" stroke-width="2.8" stroke-linejoin="round"/>
<polygon points="166.34,1759.07 175.34,1775.07 157.34,1775.07" fill="#EA600C" stroke="#D0631E" stroke-width="0.7" stroke-linejoin="miter"/>
<polygon points="211.30,1697.41 220.30,1713.41 202.30,1713.41" fill="#EA600C" stroke="#D0631E" stroke-width="0.7" stroke-linejoin="miter"/>
<polygon points="256.26,1585.21 265.26,1601.21 247.26,1601.21" fill="#EA600C" stroke="#D0631E" stroke-width="0.7" stroke-linejoin="miter"/>
<polygon points="301.23,1562.29 310.23,1578.29 292.23,1578.29" fill="#EA600C" stroke="#D0631E" stroke-width="0.7" stroke-linejoin="miter"/>
<polygon points="346.19,1528.27 355.19,1544.27 337.19,1544.27" fill="#EA600C" stroke="#D0631E" stroke-width="0.7" stroke-linejoin="miter"/>
<polygon points="391.15,1546.32 400.15,1562.32 382.15,1562.32" fill="#EA600C" stroke="#D0631E" stroke-width="0.7" stroke-linejoin="miter"/>
<polygon points="436.11,1564.38 445.11,1580.38 427.11,1580.38" fill="#EA600C" stroke="#D0631E" stroke-width="0.7" stroke-linejoin="miter"/>
<polygon points="481.07,1610.90 490.07,1626.90 472.07,1626.90" fill="#EA600C" stroke="#D0631E" stroke-width="0.7" stroke-linejoin="miter"/>
<polygon points="526.04,1632.84 535.04,1648.84 517.04,1648.84" fill="#EA600C" stroke="#D0631E" stroke-width="0.7" stroke-linejoin="miter"/>
<polygon points="571.00,1679.36 580.00,1695.36 562.00,1695.36" fill="#EA600C" stroke="#D0631E" stroke-width="0.7" stroke-linejoin="miter"/>
<line x1="588.90" y1="1582.60" x2="588.90" y2="1689.90" stroke="#000000" stroke-width="4.2" />
<line x1="607.10" y1="1582.20" x2="607.10" y2="1657.00" stroke="#000000" stroke-width="4.2" />
<text transform="translate(615.55,1634.1) scale(1,0.87)" font-size="40.3" fill="#000" stroke="#000" stroke-width="0.6">***</text>
<circle cx="666.90" cy="59.30" r="9.2" fill="#000000"/>
<text transform="translate(711.90,67.80) scale(1,1.03)" font-size="41.5" text-anchor="start" fill="#000000" >Ctr</text>
<circle cx="666.90" cy="107.20" r="8.85" fill="#6A3818" stroke="#5E3218" stroke-width="0.8"/>
<text transform="translate(710.80,115.60) scale(1.009,1.03)" font-size="41.5" fill="#6A3818">MOG immunized</text>
<polygon points="666.90,161.15 676.20,143.25 657.60,143.25" fill="#6A18A0" stroke="#66208F" stroke-width="0.7" stroke-linejoin="miter"/>
<text transform="translate(711.90,163.20) scale(1,1.03)" font-size="41.5" text-anchor="start" fill="#66208F" >Cyt. inj. ipsi</text>
<polygon points="666.90,189.55 676.20,207.45 657.60,207.45" fill="#6A18A0" stroke="#66208F" stroke-width="0.7" stroke-linejoin="miter"/>
<text transform="translate(711.90,212.20) scale(1,1.03)" font-size="41.5" text-anchor="start" fill="#66208F" >Cyt. inj. contra</text>
<polygon points="666.90,261.95 676.20,244.05 657.60,244.05" fill="#EA600C" stroke="#DE641C" stroke-width="0.7" stroke-linejoin="miter"/>
<text transform="translate(711.90,263.80) scale(1,1.03)" font-size="41.5" text-anchor="start" fill="#DE641C" >c-MS d3 ipsi</text>
<polygon points="666.90,286.30 676.20,304.20 657.60,304.20" fill="#EA600C" stroke="#DE641C" stroke-width="0.7" stroke-linejoin="miter"/>
<text transform="translate(711.90,308.40) scale(1,1.03)" font-size="41.5" text-anchor="start" fill="#DE641C" >c-MS d3 contra</text>
</svg>
</body></html>
